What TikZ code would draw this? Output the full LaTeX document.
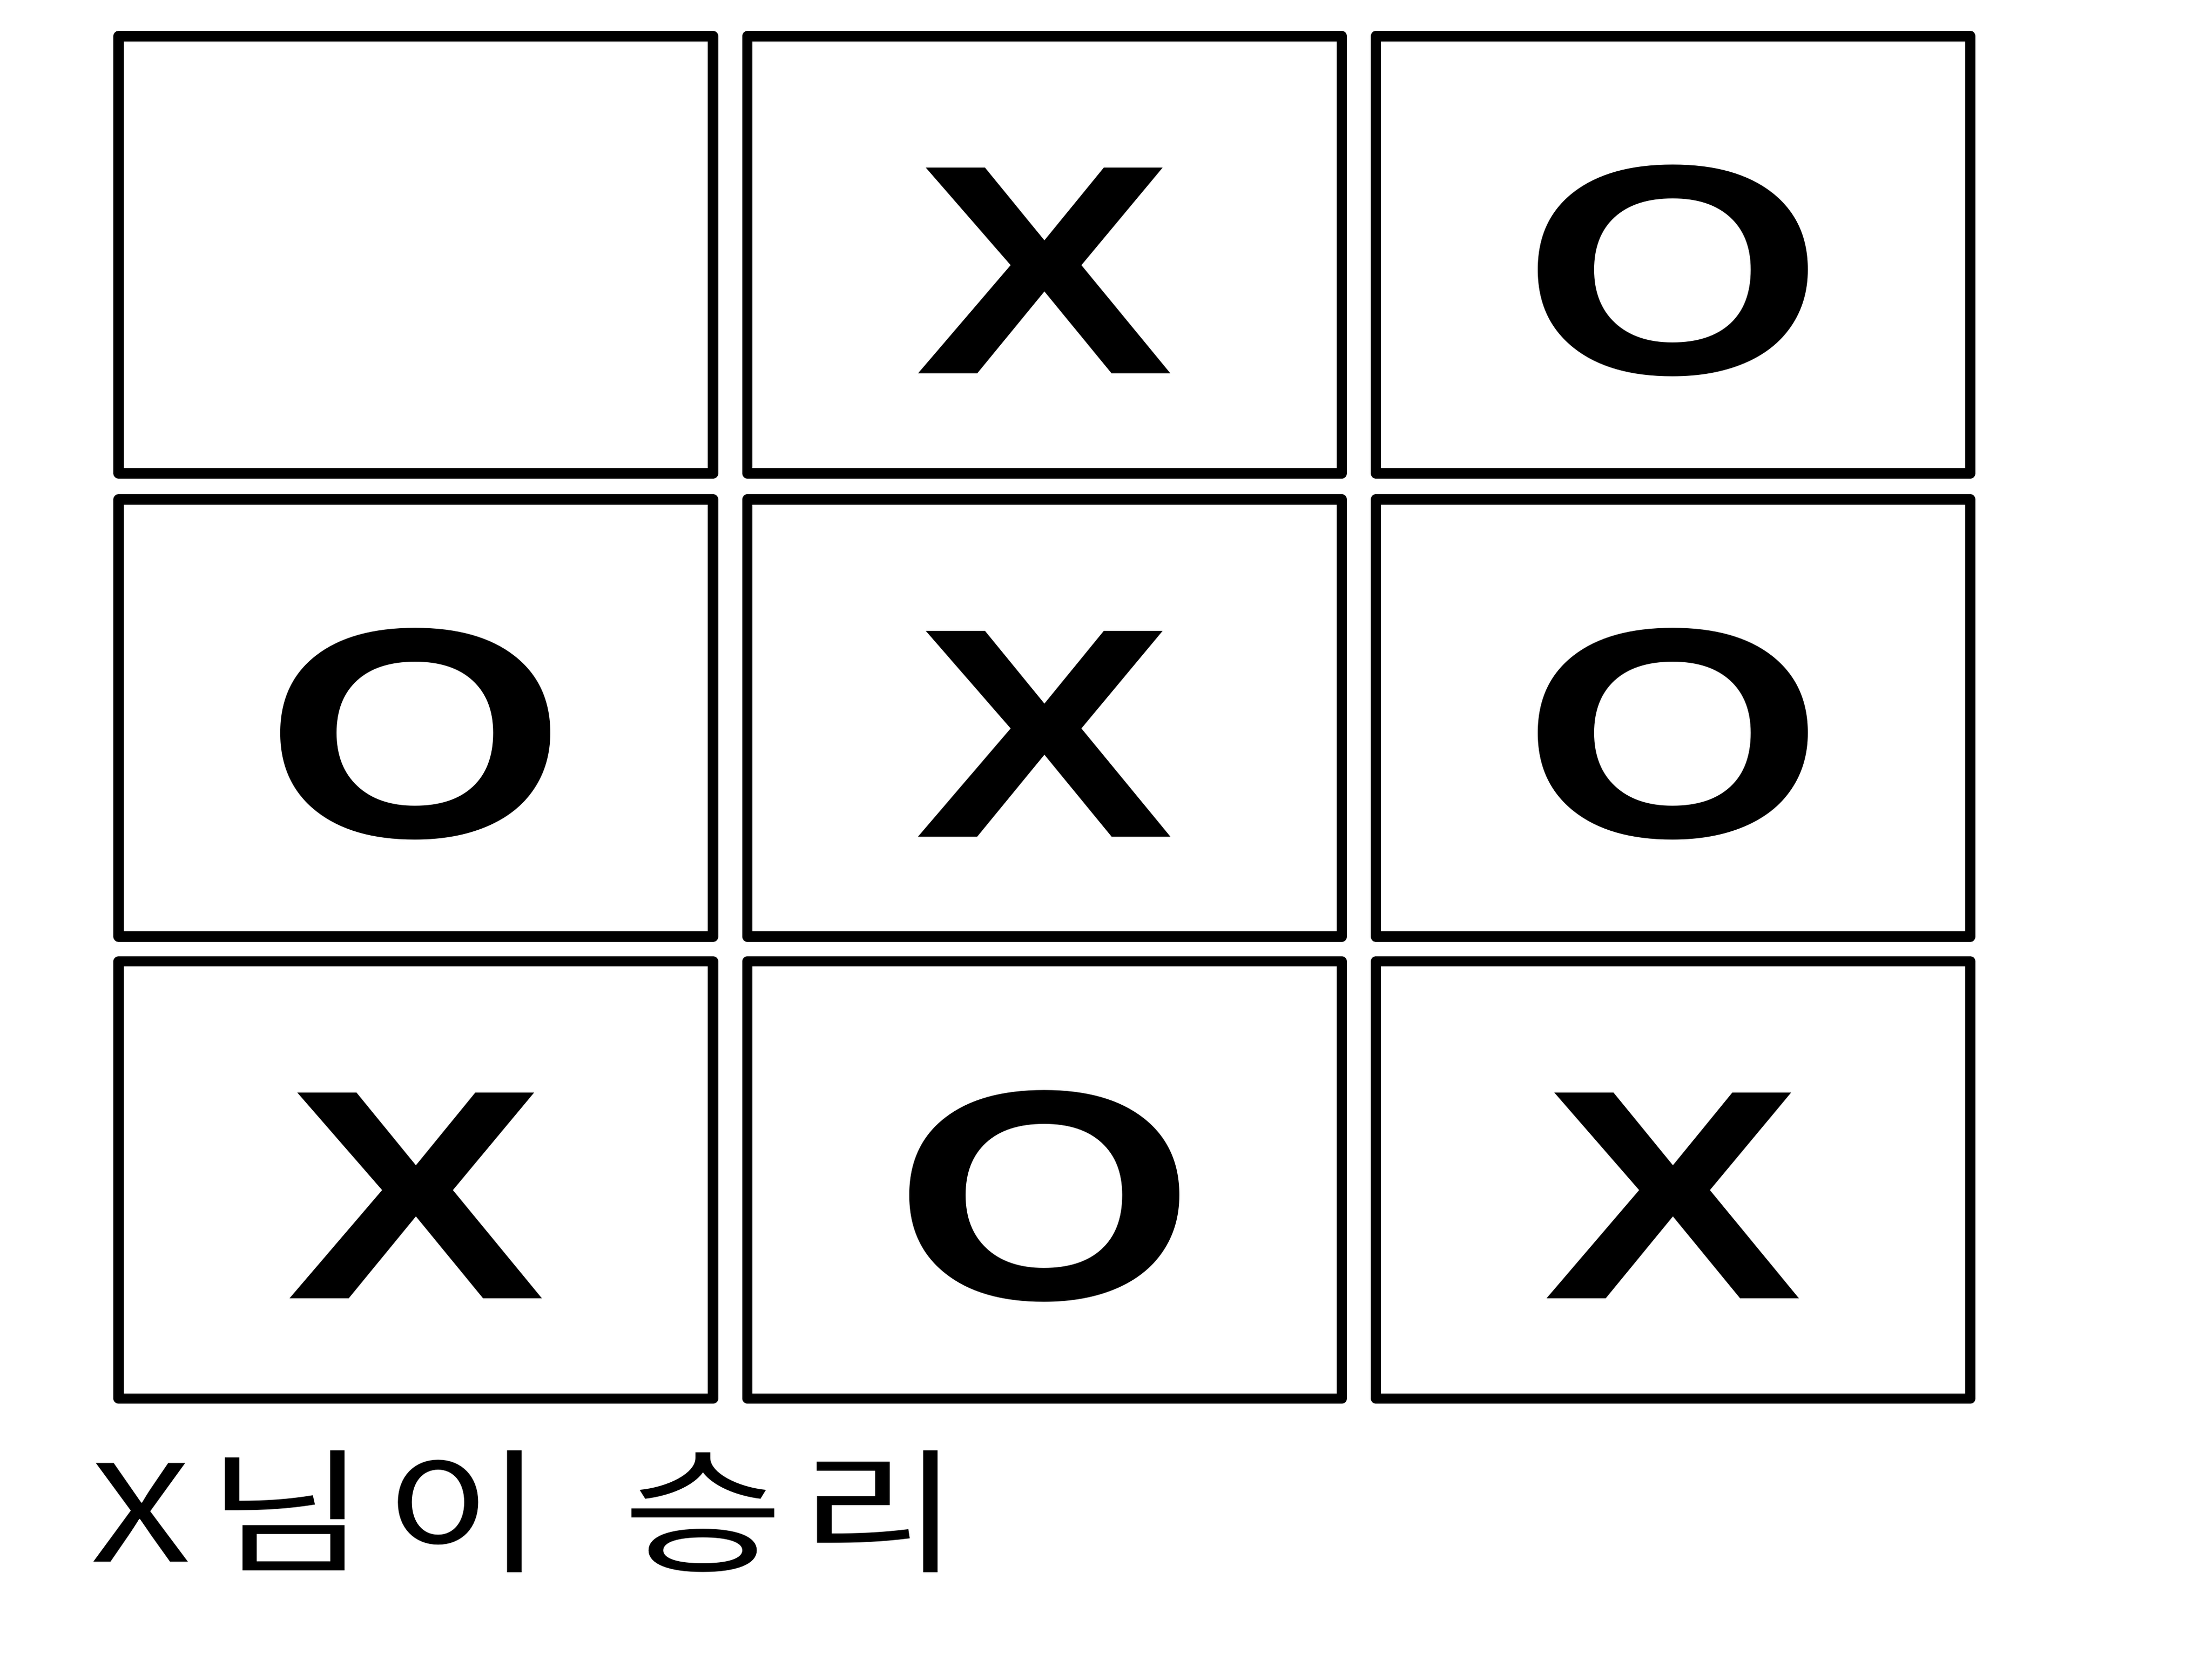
\documentclass[tikz,border=0pt]{standalone}
\usepackage{fontspec}
\newfontfamily\piecefont{Liberation Sans}
\newfontfamily\kofont[LetterSpace=9]{Noto Sans CJK KR}

\begin{document}
\begin{tikzpicture}[
        cell/.style={draw, line width=5.5pt, line join=round, inner sep=0pt,
            minimum width=11.18cm, minimum height=8.22cm},
        piece/.style={inner sep=0pt, xscale=1.3,
            font=\piecefont\bfseries\fontsize{160pt}{160pt}\selectfont},
        caption/.style={inner sep=0pt, xscale=1.3, anchor=base west,
            font=\kofont\fontsize{72pt}{72pt}\selectfont}
    ]
            \useasboundingbox (0,0) rectangle (41.6,31.2);

            \node[cell] (c11) at (7.82,26.41) {};
            \node[cell] (c12) at (19.645,26.41) {};
            \node[cell] (c13) at (31.465,26.41) {};
            \node[cell] (c21) at (7.82,17.70) {};
            \node[cell] (c22) at (19.645,17.70) {};
            \node[cell] (c23) at (31.465,17.70) {};
            \node[cell] (c31) at (7.82,9.015) {};
            \node[cell] (c32) at (19.645,9.015) {};
            \node[cell] (c33) at (31.465,9.015) {};

            \node[piece] (p12) at ([yshift=-0.3cm]c12.center) {X};
            \node[piece] (p13) at ([yshift=-0.3cm]c13.center) {O};
            \node[piece] (p21) at ([yshift=-0.3cm]c21.center) {O};
            \node[piece] (p22) at ([yshift=-0.3cm]c22.center) {X};
            \node[piece] (p23) at ([yshift=-0.3cm]c23.center) {O};
            \node[piece] (p31) at ([yshift=-0.3cm]c31.center) {X};
            \node[piece] (p32) at ([yshift=-0.3cm]c32.center) {O};
            \node[piece] (p33) at ([yshift=-0.3cm]c33.center) {X};

            \node[caption] (winner) at (1.70,1.84) {X님이\hspace{0.45em}승리};
        \end{tikzpicture}
\end{document}
